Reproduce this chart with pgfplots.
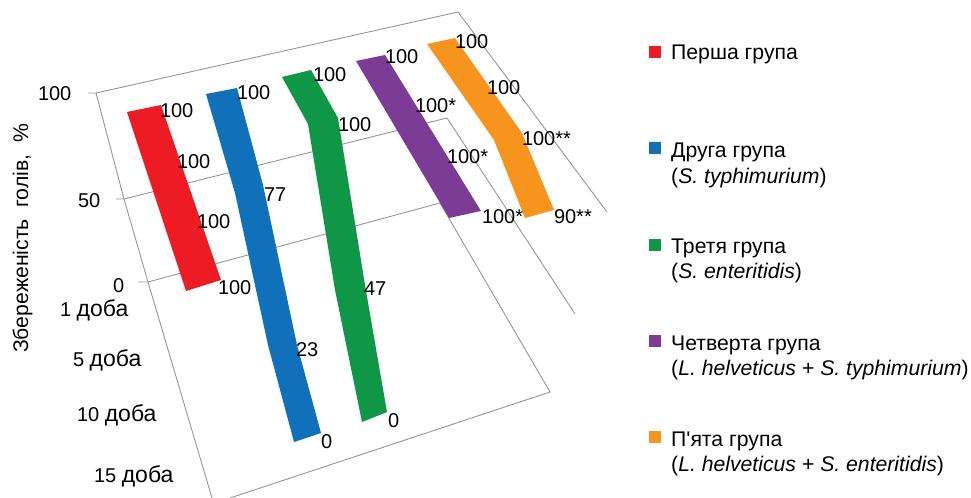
\documentclass[border=0pt]{standalone}
\usepackage{fontspec}
\setmainfont{Liberation Sans}
\newfontfamily\plainapos{Liberation Sans}
\usepackage{pgfplots}
\pgfplotsset{compat=1.18}
\definecolor{gr1}{HTML}{ED1C24}
\definecolor{gr2}{HTML}{1071BA}
\definecolor{gr3}{HTML}{0F9647}
\definecolor{gr4}{HTML}{7C3C96}
\definecolor{gr5}{HTML}{F7941E}
\definecolor{gridc}{HTML}{969696}
\newcommand{\lab}{\fontsize{20bp}{24bp}\selectfont}
\newcommand{\leg}{\fontsize{21.2bp}{24bp}\selectfont}
\protected\def\doba{{\fontsize{23bp}{24bp}\selectfont доба}}
\begin{document}
\begin{tikzpicture}
% the 3D ribbons are in perspective, so everything is given as projected picture positions
\begin{axis}[
scale only axis,
width=971bp,
height=498bp,
xmin=0, xmax=971,
ymin=0, ymax=498,
y dir=reverse,
axis lines=none,
grid lines/.style={gridc, line width=0.9bp},
text labels/.style={
    draw=none,
    nodes near coords,
    point meta=explicit symbolic,
    every node near coord/.append style={anchor=base west, inner sep=0pt, outer sep=0pt, font=\lab, text=black},
},
]
% keep the page as large as the axis
\path (axis cs:0,0) rectangle (axis cs:971,498);

% walls and floor
\addplot[grid lines] coordinates {(88,93)(96,93)(458,12)(607,212)};
\addplot[grid lines] coordinates {(116,199)(124,199)(447,118)(575,314)};
\addplot[grid lines] coordinates {(138,282)(148,282)(440,203)(550,392)(230,498)};
\addplot[grid lines] coordinates {(96,93)(124,199)(148,282)(212,498)};

% ribbons
\addplot[fill=gr1, draw=none] coordinates {(127,112)(161,105)(221,280)(186,291)} --cycle;
\addplot[fill=gr2, draw=none] coordinates {(206,94)(237,88)(263,185)(297,345)(321,433)(294,442)(268,345)(235,193)} --cycle;
\addplot[fill=gr3, draw=none] coordinates {(282,77)(311,70)(338,118)(365,285)(387,412)(362,422)(335,290)(308,124)} --cycle;
\addplot[fill=gr4, draw=none] coordinates {(356,61)(385,55)(481,211)(449,218)} --cycle;
\addplot[fill=gr5, draw=none] coordinates {(427,44)(455,38)(522,133)(554,210)(525,218)(494,140)} --cycle;

% data labels
\addplot[text labels] coordinates {(160,117)[100] (177,168)[100] (197,228)[100] (218,294)[100]};
\addplot[text labels] coordinates {(237,99)[100] (264,201)[77] (296,356)[23] (321,448)[0]};
\addplot[text labels] coordinates {(313,82)[100] (338,131)[100] (364,295)[47] (388,427)[0]};
\addplot[text labels] coordinates {(385,64)[100] (415,112)[100*] (447,163)[100*] (482,223)[100*]};
\addplot[text labels] coordinates {(455,49)[100] (487,94)[100] (522,145)[100**] (554,223)[90**]};

% axis labels
\addplot[text labels] coordinates {(38,100)[100] (78,207)[50] (113,292)[0]};
\addplot[text labels] coordinates {(60,316)[1 \doba] (73,366)[5 \doba] (77,421)[10 \doba] (94,482)[15 \doba]};
\node[rotate=90, anchor=base west, inner sep=0pt, font=\leg] at (axis cs:28,353) {Збереженість\ \ голів,\ \ \%};

% legend
\addplot[only marks, mark=square*, mark size=5.5bp, gr1, mark options={draw=none}] coordinates {(654.5,51.5)};
\addplot[only marks, mark=square*, mark size=5.5bp, gr2, mark options={draw=none}] coordinates {(654.5,148)};
\addplot[only marks, mark=square*, mark size=5.5bp, gr3, mark options={draw=none}] coordinates {(654.5,244.5)};
\addplot[only marks, mark=square*, mark size=5.5bp, gr4, mark options={draw=none}] coordinates {(654.5,341)};
\addplot[only marks, mark=square*, mark size=5.5bp, gr5, mark options={draw=none}] coordinates {(654.5,437)};
\begin{scope}[every node/.style={anchor=base west, inner sep=0pt, font=\leg}]
\node at (axis cs:671,60) {Перша група};
\node at (axis cs:671,157) {Друга група};
\node at (axis cs:671,183) {(\textit{S. typhimurium})};
\node at (axis cs:671,253) {Третя група};
\node at (axis cs:671,278) {(\textit{S. enteritidis})};
\node at (axis cs:671,350) {Четверта група};
\node at (axis cs:671,375) {(\textit{L. helveticus} + \textit{S. typhimurium})};
\node at (axis cs:671,446) {\plainapos\leg П'ята група};
\node at (axis cs:671,471) {(\textit{L. helveticus} + \textit{S. enteritidis})};
\end{scope}
\end{axis}
\end{tikzpicture}
\end{document}
